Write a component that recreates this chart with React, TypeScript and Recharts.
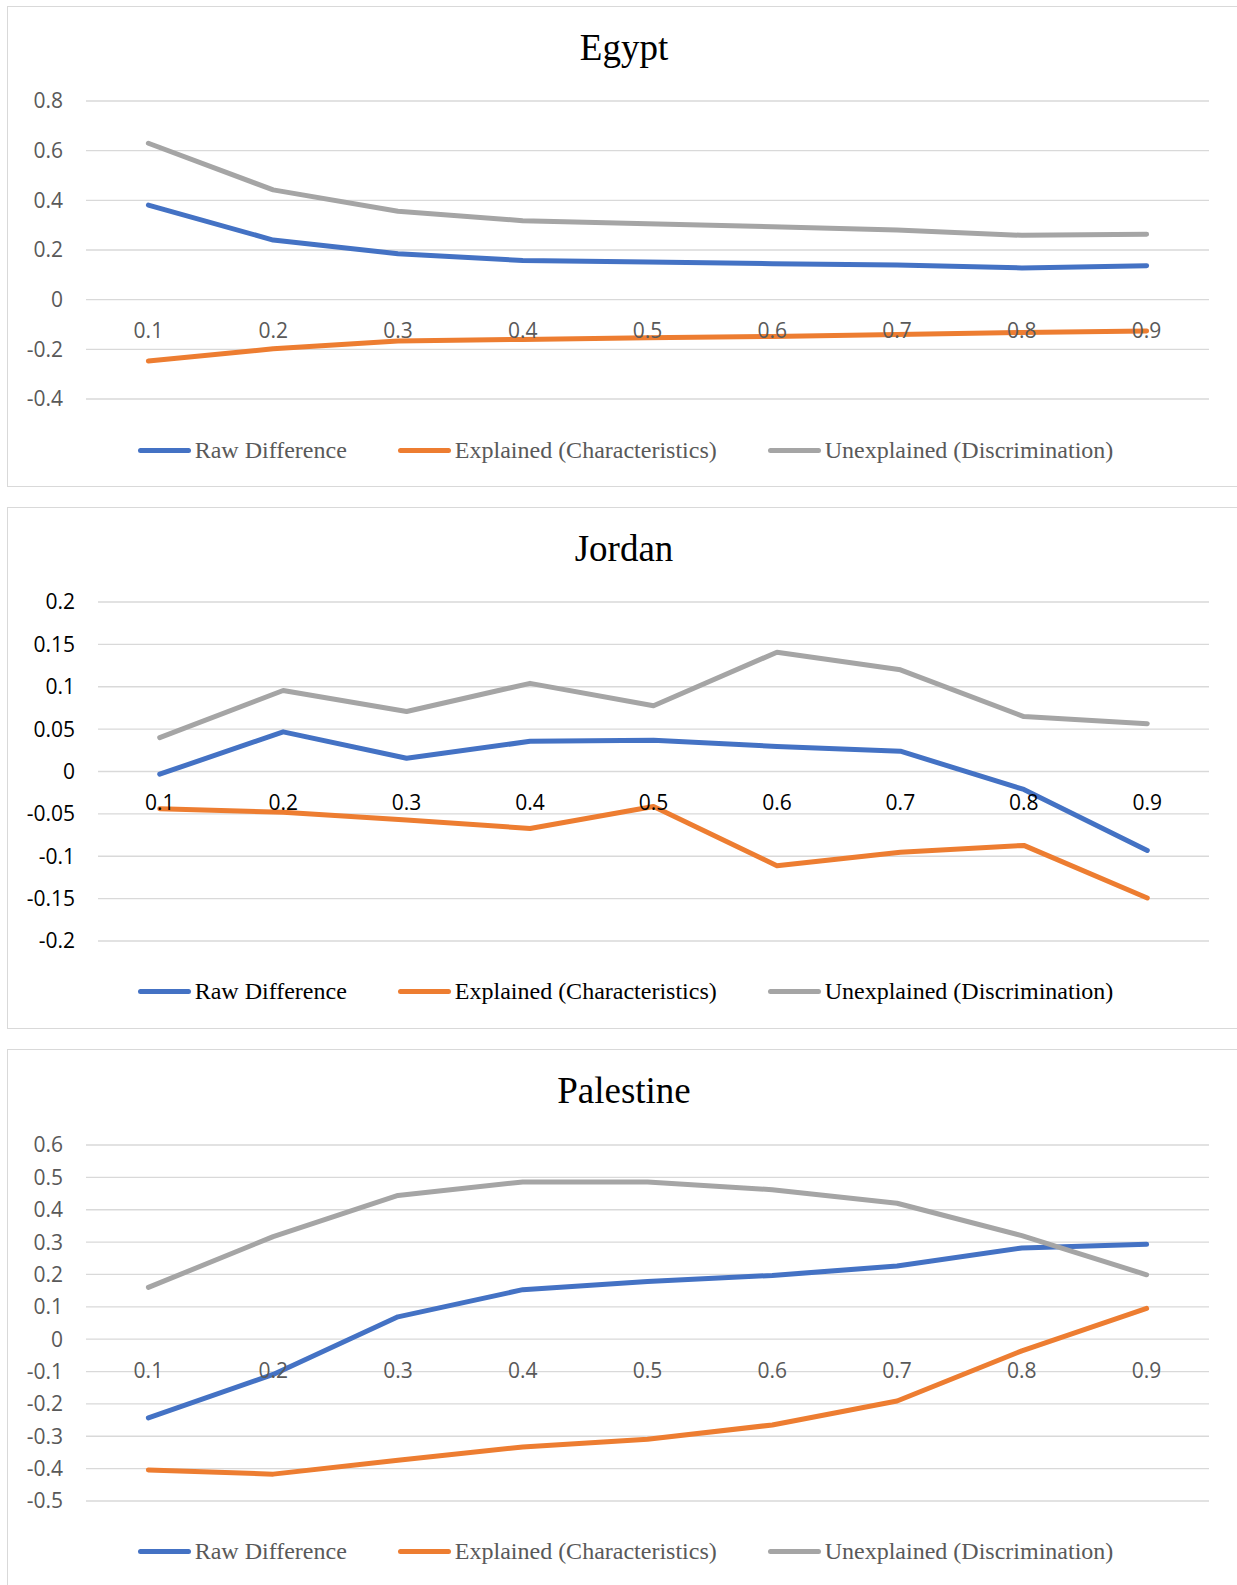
import React from "react";
import { LineChart, Line, XAxis, YAxis, CartesianGrid, Legend } from "recharts";

const quantiles = ["0.1", "0.2", "0.3", "0.4", "0.5", "0.6", "0.7", "0.8", "0.9"];

const seriesNames = ["Raw Difference", "Explained (Characteristics)", "Unexplained (Discrimination)"];
const seriesColors = ["#4472C4", "#ED7D31", "#A5A5A5"];

// Egypt
const egyptRaw = [0.381, 0.24, 0.185, 0.158, 0.152, 0.145, 0.14, 0.128, 0.137];
const egyptExplained = [-0.247, -0.198, -0.166, -0.16, -0.153, -0.148, -0.14, -0.132, -0.126];
const egyptUnexplained = [0.63, 0.442, 0.356, 0.318, 0.306, 0.294, 0.281, 0.259, 0.263];
const egyptTicks = [-0.4, -0.2, 0, 0.2, 0.4, 0.6, 0.8];

// Jordan
const jordanRaw = [-0.0032, 0.0468, 0.0156, 0.0356, 0.0368, 0.0296, 0.024, -0.0212, -0.0932];
const jordanExplained = [-0.044, -0.048, -0.0572, -0.0672, -0.0412, -0.1112, -0.0952, -0.0872, -0.1492];
const jordanUnexplained = [0.04, 0.0956, 0.0708, 0.104, 0.0776, 0.1408, 0.12, 0.0648, 0.0564];
const jordanTicks = [-0.2, -0.15, -0.1, -0.05, 0, 0.05, 0.1, 0.15, 0.2];

// Palestine
const palestineRaw = [-0.243, -0.109, 0.069, 0.153, 0.178, 0.197, 0.226, 0.282, 0.293];
const palestineExplained = [-0.404, -0.417, -0.374, -0.333, -0.309, -0.265, -0.191, -0.036, 0.095];
const palestineUnexplained = [0.16, 0.317, 0.444, 0.486, 0.486, 0.462, 0.42, 0.32, 0.199];
const palestineTicks = [-0.5, -0.4, -0.3, -0.2, -0.1, 0, 0.1, 0.2, 0.3, 0.4, 0.5, 0.6];

const fmt = (v: number) => String(Math.round(v * 100) / 100);

const CHART_W = 1237;
const PLOT_RIGHT = 1209;
const XAXIS_H = 20;

type PanelProps = {
  title: string;
  raw: number[];
  explained: number[];
  unexplained: number[];
  ticks: number[];
  top: number;
  boxHeight: number;
  chartHeight: number;
  plotLeft: number;
  plotTop: number;
  plotBottom: number;
  legendY: number;
  textColor: string;
};

const Panel = (p: PanelProps) => {
  const data = quantiles.map((q, i) => ({
    q,
    raw: p.raw[i],
    explained: p.explained[i],
    unexplained: p.unexplained[i],
  }));
  const min = p.ticks[0];
  const max = p.ticks[p.ticks.length - 1];
  const zeroY = p.plotTop + (max / (max - min)) * (p.plotBottom - p.plotTop);
  const pad = (PLOT_RIGHT - p.plotLeft) / 18;
  const keys = ["raw", "explained", "unexplained"];

  return (
    <>
      <div
        style={{
          position: "absolute",
          left: 7,
          top: p.top,
          width: 1245,
          height: p.boxHeight,
          border: "1.5px solid #d9d9d9",
          boxSizing: "border-box",
        }}
      />
      <div
        style={{
          position: "absolute",
          left: 8,
          top: p.top + 17,
          width: 1232,
          height: 50,
          lineHeight: "50px",
          textAlign: "center",
          fontFamily: "'Liberation Serif', serif",
          fontSize: 37,
          color: "#000",
        }}
      >
        {p.title}
      </div>
      <div style={{ position: "absolute", left: 0, top: p.top }}>
        <LineChart
          width={CHART_W}
          height={p.chartHeight}
          data={data}
          margin={{
            top: p.plotTop,
            right: CHART_W - PLOT_RIGHT,
            bottom: p.chartHeight - p.plotBottom - XAXIS_H,
            left: 0,
          }}
        >
          <CartesianGrid vertical={false} stroke="#d9d9d9" strokeWidth={1.3} />
          <XAxis
            dataKey="q"
            height={XAXIS_H}
            axisLine={false}
            tickLine={false}
            interval={0}
            padding={{ left: pad, right: pad }}
            tick={(t: any) => (
              <text
                x={t.x}
                y={zeroY + 31}
                dy="0.36em"
                textAnchor="middle"
                fontFamily="'Open Sans', sans-serif"
                fontSize={21}
                fill={p.textColor}
              >
                {t.payload.value}
              </text>
            )}
          />
          <YAxis
            width={p.plotLeft}
            domain={[min, max]}
            ticks={p.ticks}
            tickFormatter={fmt}
            axisLine={false}
            tickLine={false}
            tickSize={0}
            tickMargin={23}
            interval={0}
            tick={{ fontFamily: "'Open Sans', sans-serif", fontSize: 21, fill: p.textColor }}
          />
          {keys.map((k, i) => (
            <Line
              key={k}
              dataKey={k}
              name={seriesNames[i]}
              stroke={seriesColors[i]}
              strokeWidth={5}
              strokeLinecap="round"
              strokeLinejoin="round"
              dot={false}
              activeDot={false}
              isAnimationActive={false}
            />
          ))}
          <Legend
            layout="horizontal"
            verticalAlign="middle"
            align="center"
            wrapperStyle={{ top: p.legendY - 15, left: 0, width: 1251, height: 30 }}
            content={() => (
              <div style={{ display: "flex", justifyContent: "center", alignItems: "center", height: 30, gap: 51 }}>
                {seriesNames.map((name, i) => (
                  <div key={name} style={{ display: "flex", alignItems: "center" }}>
                    <span
                      style={{
                        display: "inline-block",
                        width: 53,
                        height: 5,
                        borderRadius: 3,
                        background: seriesColors[i],
                        marginRight: 4,
                      }}
                    />
                    <span
                      style={{
                        fontFamily: "'Liberation Serif', serif",
                        fontSize: 24,
                        color: p.textColor,
                        whiteSpace: "nowrap",
                      }}
                    >
                      {name}
                    </span>
                  </div>
                ))}
              </div>
            )}
          />
        </LineChart>
      </div>
    </>
  );
};

export default function App() {
  return (
    <div style={{ position: "absolute", left: 0, top: 0, width: 1237, height: 1585, overflow: "hidden", background: "#fff" }}>
      <Panel
        title="Egypt"
        raw={egyptRaw}
        explained={egyptExplained}
        unexplained={egyptUnexplained}
        ticks={egyptTicks}
        top={6}
        boxHeight={481}
        chartHeight={481}
        plotLeft={86}
        plotTop={95}
        plotBottom={393}
        legendY={444}
        textColor="#595959"
      />
      <Panel
        title="Jordan"
        raw={jordanRaw}
        explained={jordanExplained}
        unexplained={jordanUnexplained}
        ticks={jordanTicks}
        top={507}
        boxHeight={522}
        chartHeight={522}
        plotLeft={98}
        plotTop={95}
        plotBottom={434}
        legendY={484}
        textColor="#000"
      />
      <Panel
        title="Palestine"
        raw={palestineRaw}
        explained={palestineExplained}
        unexplained={palestineUnexplained}
        ticks={palestineTicks}
        top={1049}
        boxHeight={560}
        chartHeight={536}
        plotLeft={86}
        plotTop={96}
        plotBottom={452}
        legendY={502}
        textColor="#595959"
      />
    </div>
  );
}
